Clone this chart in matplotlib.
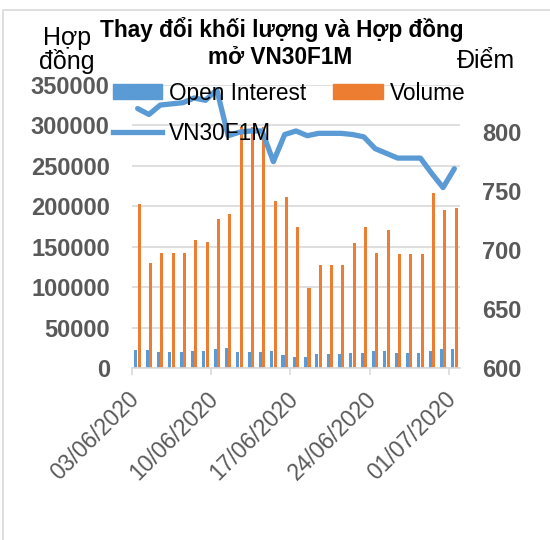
import matplotlib
matplotlib.use("Agg")
import matplotlib.pyplot as plt
import matplotlib.transforms as mtransforms
from matplotlib.patches import Patch, Rectangle
from matplotlib.lines import Line2D
import numpy as np
import pandas as pd

plt.rcParams['font.family'] = ['Liberation Sans', 'DejaVu Sans']

# ---- data ----
dates = pd.date_range("2020-06-03", "2020-07-01", freq="D")
open_interest = [22000, 22000, 20000, 20000, 20000, 21000, 21000, 24000, 24500,
                 20000, 20000, 20000, 21000, 15500, 13500, 13500, 17000, 17000,
                 17000, 18000, 18000, 20500, 20500, 18000, 18000, 18000, 20500,
                 24000, 24000]
volume = [203000, 130000, 142000, 142000, 142000, 158000, 156000, 184000, 191000,
          298000, 298000, 298000, 207000, 211000, 175000, 99000, 128000, 128000,
          128000, 154000, 174000, 142000, 171000, 141000, 141000, 141000, 217000,
          196000, 198000]
vn30f1m = [820, 815, 823, 824, 825, 829, 827, 836, 797, 800, 801, 801, 775, 798,
           801, 797, 799, 799, 799, 798, 796, 786, 782, 778, 778, 778, 765, 753, 769]
left_ticks = [0, 50000, 100000, 150000, 200000, 250000, 300000, 350000]
right_ticks = [600, 650, 700, 750, 800]
label_every = 7

title_lines = ["Thay đổi khối lượng và Hợp đồng", "mở VN30F1M"]
left_title = "Hợp\nđồng"
right_title = "Điểm"

BLUE = "#5B9BD5"
ORANGE = "#ED7D31"
GRID = "#D9D9D9"
TXT = "#595959"

W, H = 550, 540
fig = plt.figure(figsize=(W / 100, H / 100), dpi=100)

def fx(px):
    return px / W

def fy(py):
    return 1 - py / H

# chart border
fig.patches.append(Rectangle((fx(3), fy(560)), fx(600), fy(10) - fy(560),
                             transform=fig.transFigure, fill=False,
                             edgecolor="#D9D9D9", linewidth=1.2, zorder=0))

left, right, top, bottom = 132, 460, 85, 368
ax = fig.add_axes([fx(left), fy(bottom), fx(right - left), fy(top) - fy(bottom)])
ax2 = ax.twinx()

x = np.arange(len(dates))
bw = 0.27
ax.bar(x - 0.15, open_interest, width=bw, color=BLUE, zorder=2)
ax.bar(x + 0.15, volume, width=bw, color=ORANGE, zorder=2)
ax2.plot(x, vn30f1m, color=BLUE, linewidth=3.8, solid_capstyle='round',
         solid_joinstyle='round', zorder=3)

ax.set_xlim(-0.5, len(dates) - 0.5)
ax.set_ylim(0, 350000)
ax2.set_ylim(600, 840)

ax.set_yticks(left_ticks)
ax.set_yticklabels([str(v) for v in left_ticks])
ax2.set_yticks(right_ticks)
ax2.set_yticklabels([str(v) for v in right_ticks])

ax.grid(axis='y', color=GRID, linewidth=1.2, zorder=0)
ax.set_axisbelow(True)

for a in (ax, ax2):
    for s in a.spines.values():
        s.set_visible(False)
ax.spines['bottom'].set_visible(True)
ax.spines['bottom'].set_color(GRID)
ax.spines['bottom'].set_linewidth(1.2)

ax.tick_params(axis='x', direction='out', length=5, width=1.2, color=GRID, pad=9)
ax.tick_params(axis='y', length=0, pad=16, labelsize=17, labelcolor=TXT)
ax2.tick_params(axis='y', length=0, pad=16, labelsize=17, labelcolor=TXT)
for lab in ax.get_yticklabels() + ax2.get_yticklabels():
    lab.set_fontweight('bold')

tick_pos = np.arange(0, len(dates), label_every) - 0.5
tick_lab = [dates[i].strftime("%d/%m/%Y") for i in range(0, len(dates), label_every)]
ax.set_xticks(tick_pos)
ax.set_xticklabels(tick_lab, rotation=45, ha='right', va='top',
                   fontsize=16.5, color=TXT)
offset = mtransforms.ScaledTranslation(12 / 100, 0, fig.dpi_scale_trans)
for lab in ax.get_xticklabels():
    lab.set_transform(lab.get_transform() + offset)

fig.text(fx(282), fy(29), title_lines[0], ha='center', va='center', fontsize=16.3,
         fontweight='bold', color='black')
fig.text(fx(280), fy(57), title_lines[1], ha='center', va='center', fontsize=16.3,
         fontweight='bold', color='black')
fig.text(fx(67), fy(50), left_title, ha='center', va='center', fontsize=18,
         color='black', linespacing=0.9)
fig.text(fx(486), fy(61), right_title, ha='center', va='center', fontsize=18,
         color='black')

handles = [Patch(color=BLUE), Line2D([0], [0], color=BLUE, linewidth=3.8),
           Patch(color=ORANGE)]
labels = ["Open Interest", "VN30F1M", "Volume"]
fig.legend(handles, labels, ncol=2, loc='upper left',
           bbox_to_anchor=(fx(108), fy(77)), frameon=False, fontsize=16.3,
           handlelength=2.2, handletextpad=0.3, columnspacing=1.2,
           labelspacing=0.75, handleheight=0.6, borderpad=0.2, borderaxespad=0)

fig.savefig("out.png", dpi=100)
